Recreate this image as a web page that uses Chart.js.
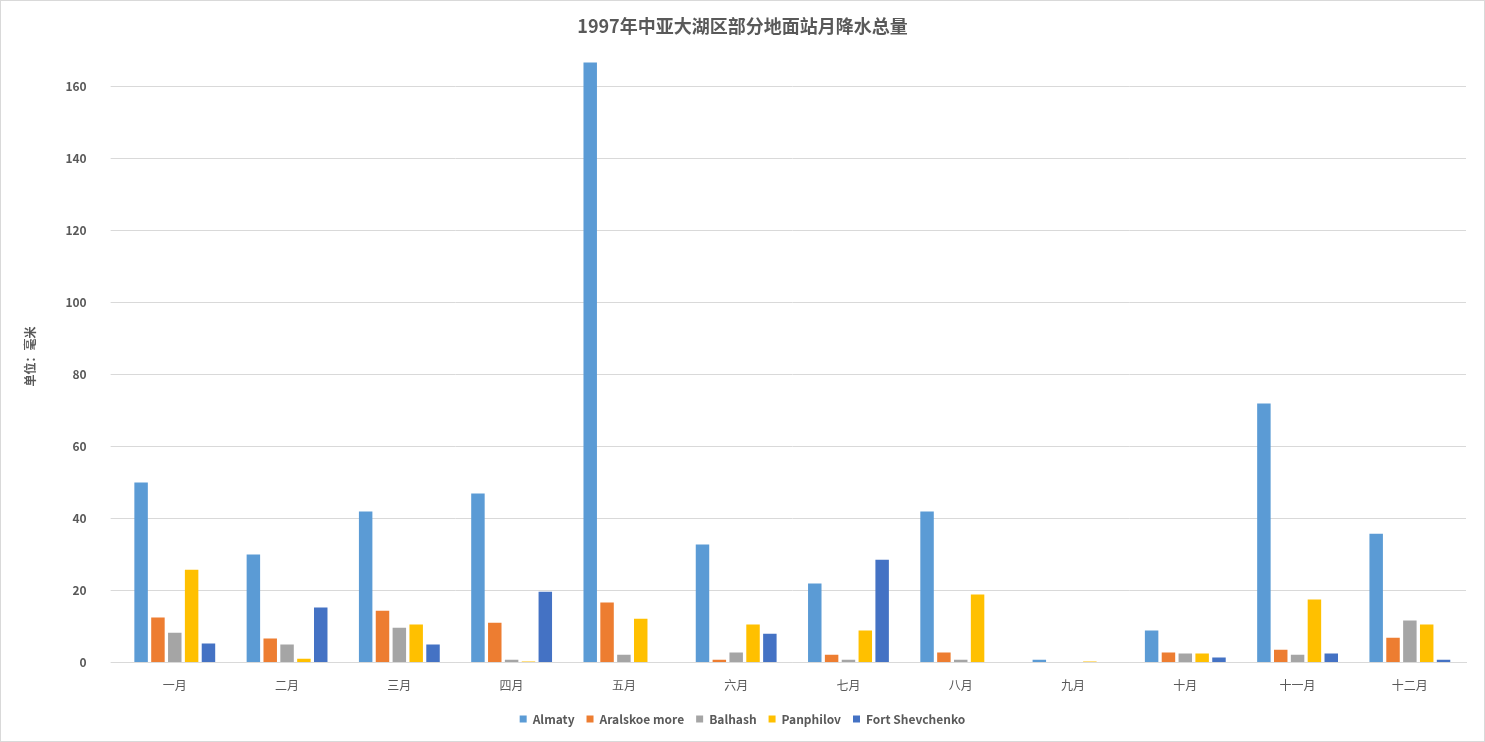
<!DOCTYPE html>
<html><head><meta charset="utf-8">
<script src="https://cdn.jsdelivr.net/npm/chart.js@4"></script>
<style>html,body{margin:0;padding:0;background:#fff;}#wrap{position:absolute;left:0;top:0;width:1483px;height:740px;border:1px solid #d9d9d9;}</style>
</head><body><div id="wrap"><canvas id="c"></canvas></div>
<script>
const categories=['一月','二月','三月','四月','五月','六月','七月','八月','九月','十月','十一月','十二月'];
const almaty=[50,30,42,47,166.7,32.8,22,42,0.8,8.9,72,35.8];
const aralskoe=[12.5,6.7,14.4,11.1,16.7,0.8,2.2,2.8,0,2.8,3.6,6.9];
const balhash=[8.3,5,9.7,0.8,2.2,2.8,0.8,0.8,0,2.5,2.2,11.7];
const panphilov=[25.8,1.1,10.6,0.3,12.2,10.6,8.9,18.9,0.3,2.5,17.5,10.6];
const fort=[5.3,15.3,5,19.7,0,8,28.6,0,0,1.4,2.5,0.8];
const names=['Almaty','Aralskoe more','Balhash','Panphilov','Fort Shevchenko'];
const colors=['#5B9BD5','#ED7D31','#A5A5A5','#FFC000','#4472C4'];
const series=[almaty,aralskoe,balhash,panphilov,fort];
const font="'Noto Sans CJK SC','Noto Sans',sans-serif";
new Chart(document.getElementById('c'),{type:'bar',
data:{labels:categories,datasets:series.map((d,i)=>({label:names[i],data:d,backgroundColor:colors[i],categoryPercentage:0.75,barPercentage:0.8}))},
options:{responsive:true,maintainAspectRatio:false,animation:false,
layout:{padding:{left:18,right:18,top:8,bottom:6}},
plugins:{title:{display:true,text:'1997年中亚大湖区部分地面站月降水总量',color:'#595959',font:{family:font,size:18,weight:'bold'},padding:{top:6,bottom:14}},
legend:{position:'bottom',labels:{boxWidth:7,boxHeight:7,color:'#595959',font:{family:font,size:12,weight:'bold'},padding:12}},tooltip:{enabled:false}},
scales:{x:{grid:{display:false},border:{color:'#d9d9d9'},ticks:{color:'#595959',font:{family:font,size:12},padding:8}},
y:{min:0,max:170,afterBuildTicks:s=>{s.ticks=s.ticks.filter(t=>t.value%20===0);},ticks:{stepSize:20,color:'#595959',font:{family:font,size:12,weight:'bold'},padding:24},grid:{color:'#d9d9d9'},border:{display:false},
title:{display:true,text:'单位：毫米',color:'#595959',font:{family:font,size:12,weight:'bold'}}}}}});
</script></body></html>
